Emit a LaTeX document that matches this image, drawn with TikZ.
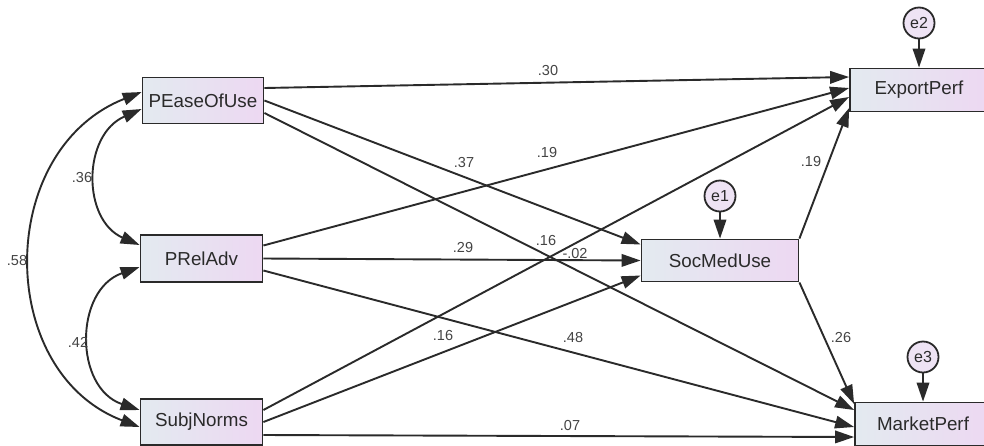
\documentclass[tikz,border=0pt]{standalone}
\usepackage{fontspec}
\setmainfont{Liberation Sans}
\usetikzlibrary{arrows.meta}
\definecolor{boxL}{HTML}{E3EAF0}
\definecolor{boxR}{HTML}{EDD8F2}
\definecolor{circ}{HTML}{EEE3F4}
\definecolor{ink}{HTML}{2A2A2A}
\definecolor{lbl}{HTML}{444444}
\begin{document}
\begin{tikzpicture}[x=1pt,y=-1pt,
  var/.style={draw=ink, line width=1.8pt, left color=boxL, right color=boxR, inner sep=0pt, font=\fontsize{18.8}{20}\selectfont, text=ink},
  err/.style={circle, draw=ink, line width=1.8pt, fill=circ, minimum size=31pt, inner sep=0pt, font=\fontsize{16}{17}\selectfont, text=ink},
  reg/.style={line width=1.9pt, draw=ink, -{Triangle[length=19pt,width=12.5pt]}},
  covar/.style={line width=1.9pt, draw=ink, {Triangle[length=19pt,width=12.5pt]}-{Triangle[length=19pt,width=12.5pt]}},
  lab/.style={font=\fontsize{14.5}{15}\selectfont, text=lbl, inner sep=0pt}
]
\useasboundingbox[fill=white] (0,0) rectangle (984,445);

% observed variables
\node[var, minimum width=121pt, minimum height=46pt] (PE) at (203,100.5) {PEaseOfUse};
\node[var, minimum width=122pt, minimum height=47pt] (PR) at (201.5,258.5) {PRelAdv};
\node[var, minimum width=122pt, minimum height=46pt] (SN) at (201.5,422) {SubjNorms};
\node[var, minimum width=157pt, minimum height=42pt] (SM) at (720,260.5) {SocMedUse};
\node[var, minimum width=138pt, minimum height=43pt] (EP) at (919,90) {ExportPerf};
\node[var, minimum width=136pt, minimum height=43pt] (MP) at (923,424) {MarketPerf};

% error terms
\node[err] (e1) at (720,196) {e1};
\node[err] (e2) at (919,23) {e2};
\node[err] (e3) at (923,357) {e3};

\draw[reg] (e1) -- (SM.north);
\draw[reg] (e2) -- (EP.north);
\draw[reg] (e3.south) -- (e3.south |- MP.north);

% paths from PEaseOfUse
\draw[reg] ([yshift=12.5pt]PE.east) -- ([yshift=13pt]EP.west);
\draw[reg] (PE.east) -- ([yshift=16pt]SM.west);
\draw[reg] ([yshift=-12.5pt]PE.east) -- ([yshift=14pt]MP.west);

% paths from PRelAdv
\draw[reg] ([yshift=13pt]PR.east) -- ([yshift=2pt]EP.west);
\draw[reg] (PR.east) -- (SM.west);
\draw[reg] ([yshift=-12pt]PR.east) -- ([yshift=-3pt]MP.west);

% paths from SubjNorms
\draw[reg] ([yshift=12pt]SN.east) -- ([yshift=-7pt]EP.west);
\draw[reg] (SN.east) -- ([yshift=-15pt]SM.west);
\draw[reg] ([yshift=-13pt]SN.east) -- ([yshift=-13pt]MP.west);

% paths from SocMedUse
\draw[reg] (SM.north east) -- ([yshift=-18pt]EP.west);
\draw[reg] (SM.south east) -- ([yshift=20pt]MP.west);

% covariances
\draw[covar] ([yshift=-8.5pt]PE.west) .. controls (82,135) and (82,220) .. ([yshift=13.5pt]PR.west);
\draw[covar] ([yshift=8.5pt]PE.west) .. controls (-5,150) and (-5,372) .. ([yshift=-5pt]SN.west);
\draw[covar] ([yshift=-8.5pt]PR.west) .. controls (74,290) and (74,388) .. ([yshift=12pt]SN.west);

% labels
\node[lab] (l30) at (548,71) {.30};
\node[lab] (l37) at (464,163) {.37};
\node[lab] (l19a) at (547,153) {.19};
\node[lab] (l29) at (463,248) {.29};
\node[lab] (l16a) at (546,241) {.16};
\node[lab] (l02) at (575,254) {-.02};
\node[lab] (l16b) at (443,335) {.16};
\node[lab] (l48) at (573,338) {.48};
\node[lab] (l07) at (570,425) {.07};
\node[lab] (l19b) at (811,162) {.19};
\node[lab] (l26) at (841,337) {.26};
\node[lab] (l36) at (82,178) {.36};
\node[lab] (l58) at (17,261) {.58};
\node[lab] (l42) at (78,342) {.42};
\end{tikzpicture}
\end{document}
